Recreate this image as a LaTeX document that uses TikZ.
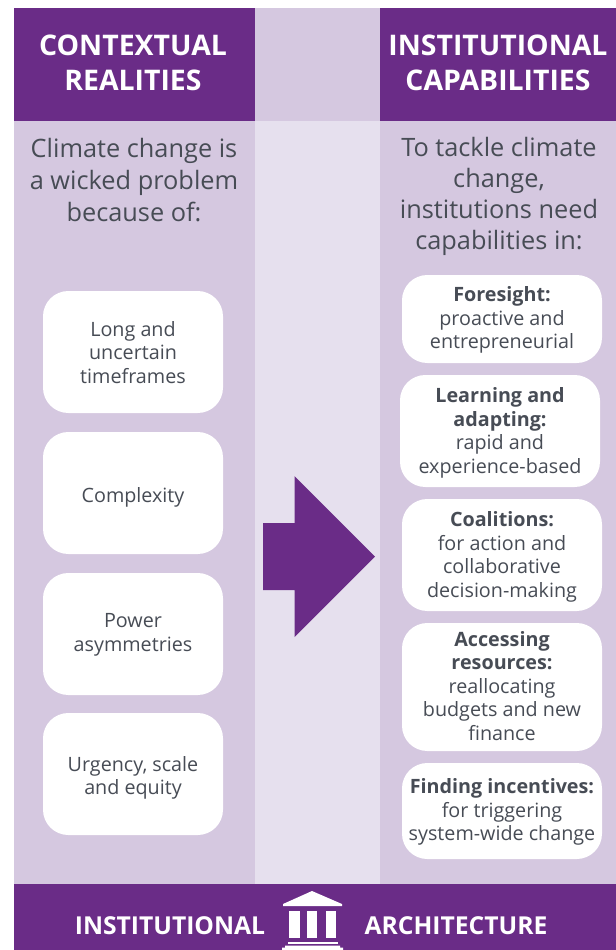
\documentclass[tikz,border=0pt]{standalone}
\usepackage{fontspec}
\setmainfont{Open Sans}
\definecolor{purp}{HTML}{6A2C87}
\definecolor{lilac}{HTML}{D5C8E0}
\definecolor{pale}{HTML}{E6E0EE}
\definecolor{ink}{HTML}{474C55}
\tikzset{
 head/.style={text=white,font=\fontsize{21.3pt}{25.9pt}\selectfont\bfseries,align=center,inner sep=0pt},
 foot/.style={text=white,font=\fontsize{18.5pt}{21pt}\selectfont\bfseries,inner sep=0pt},
 intro/.style={text=ink,font=\fontsize{19pt}{24pt}\selectfont,align=center,inner sep=0pt},
 introb/.style={text=ink,font=\fontsize{19pt}{23.25pt}\selectfont,align=center,inner sep=0pt},
 lbox/.style={fill=white,rounded corners=19pt,minimum width=135pt,inner sep=0pt},
 rbox/.style={fill=white,rounded corners=19pt,minimum width=150pt,inner sep=0pt},
 btext/.style={text=ink,font=\fontsize{14.8pt}{17.6pt}\selectfont,align=center,inner sep=0pt},
}
\begin{document}
\begin{tikzpicture}[x=0.75pt,y=-0.75pt]
\useasboundingbox (0,0) rectangle (616,950);
\fill[white] (0,0) rectangle (616,950);
\fill[lilac] (14,121) rectangle (255,884);
\fill[lilac] (380,121) rectangle (616,884);
\fill[lilac] (255,8) rectangle (380,121);
\fill[pale] (255,121) rectangle (380,884);
\fill[purp] (14,8) rectangle (255,121);
\fill[purp] (380,8) rectangle (616,121);
\fill[purp] (14,884) rectangle (616,950);
\fill[purp] (263,523) -- (294.5,523) -- (294.5,476) -- (375,556.5) -- (294.5,637) -- (294.5,590) -- (263,590) -- cycle;
\node[head] (h1) at (133,62.7) {CONTEXTUAL\\REALITIES};
\node[head] (h2) at (498,62.7) {INSTITUTIONAL\\CAPABILITIES};
\node[intro] (i1) at (134,180) {Climate change is\\a wicked problem\\because of:};
\node[introb] (i2) at (499,196.5) {To tackle climate\\change,\\institutions need\\capabilities in:};
\node[lbox,minimum height=91.5pt] (l1) at (133,352) {};
\node[lbox,minimum height=91.5pt] (l2) at (133,493) {};
\node[lbox,minimum height=91.5pt] (l3) at (133,634) {};
\node[lbox,minimum height=91.5pt] (l4) at (133,774) {};
\node[btext] (lt1) at (133,352.5) {Long and\\uncertain\\timeframes};
\node[btext] (lt2) at (133,497) {Complexity};
\node[btext] (lt3) at (133,635) {Power\\asymmetries};
\node[btext] (lt4) at (133,778) {Urgency, scale\\and equity};
\node[rbox,minimum height=66pt] (r1) at (502,319) {};
\node[rbox,minimum height=84pt] (r2) at (500,431) {};
\node[rbox,minimum height=84pt] (r3) at (502,555) {};
\node[rbox,minimum height=96pt] (r4) at (502,687) {};
\node[rbox,minimum height=72pt] (r5) at (502,811) {};
\node[btext] (rt1) at (502,320) {\textbf{Foresight:}\\proactive and\\entrepreneurial};
\node[btext] (rt2) at (500,433) {\textbf{Learning and}\\\textbf{adapting:}\\rapid and\\experience-based};
\node[btext] (rt3) at (502,557) {\textbf{Coalitions:}\\for action and\\collaborative\\decision-making};
\node[btext] (rt4) at (502,686) {\textbf{Accessing}\\\textbf{resources:}\\reallocating\\budgets and new\\finance};
\node[btext] (rt5) at (502,812) {\textbf{Finding incentives:}\\for triggering\\system-wide change};
\node[foot] (f1) at (170,926) {INSTITUTIONAL};
\node[foot] (f2) at (456,926) {ARCHITECTURE};
% building icon
\fill[white] (312,891) -- (342,904) -- (342,906) -- (283,906) -- (283,904) -- cycle;
\fill[white] (289,911) rectangle (299.5,938);
\fill[white] (307,911) rectangle (317,938);
\fill[white] (326,911) rectangle (336,938);
\fill[white] (288,942) rectangle (338,944);
\fill[white] (285,945.5) -- (340,945.5) -- (340,947.5) -- (343,947.5) -- (343,950) -- (282,950) -- (282,947.5) -- (285,947.5) -- cycle;
\end{tikzpicture}
\end{document}
